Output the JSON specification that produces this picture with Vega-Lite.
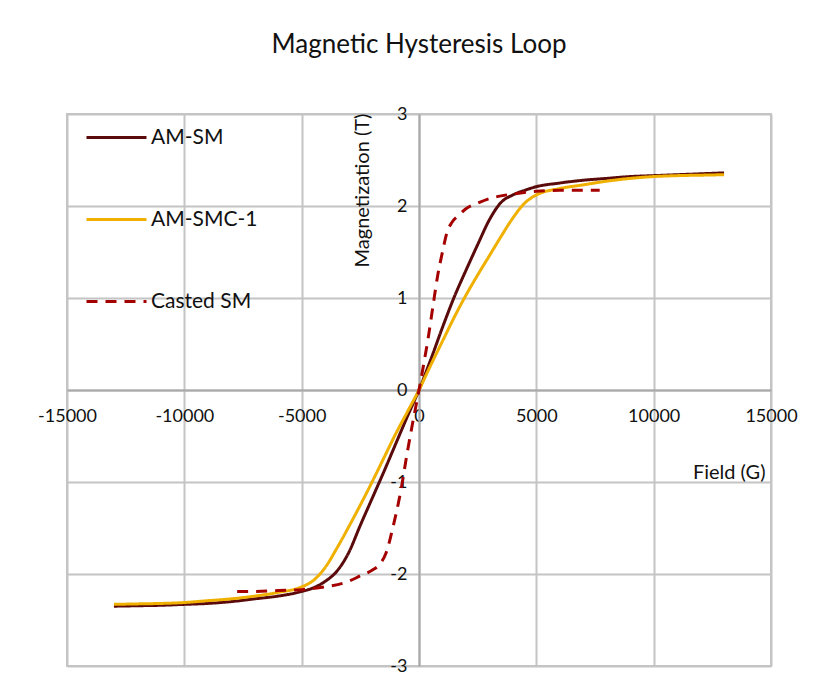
{
  "$schema": "https://vega.github.io/schema/vega-lite/v6.json",
  "autosize": {"type": "none"},
  "width": 704,
  "height": 552,
  "padding": {"left": 67, "top": 114, "right": 49, "bottom": 27},
  "background": "white",
  "title": {
    "text": "Magnetic Hysteresis Loop",
    "font": "Lato",
    "fontSize": 26,
    "fontWeight": "normal",
    "color": "#111111",
    "anchor": "middle",
    "frame": "group",
    "offset": 47
  },
  "config": {
    "font": "Lato",
    "view": {"stroke": "#c4c4c4", "strokeWidth": 2},
    "axis": {
      "gridColor": "#c4c4c4",
      "gridWidth": 2,
      "gridOpacity": 1,
      "domainColor": "#a8a8a8",
      "domainWidth": 2,
      "ticks": false,
      "labelFont": "Lato",
      "labelFontSize": 18,
      "labelColor": "#111111",
      "titleFont": "Lato",
      "titleFontSize": 20,
      "titleFontWeight": "normal",
      "titleColor": "#111111",
      "labelOverlap": false,
      "labelFlush": false
    }
  },
  "data": {
    "values": [
      {"series": "AM-SM", "field": -13000, "m": -2.35},
      {"series": "AM-SM", "field": -12000, "m": -2.345},
      {"series": "AM-SM", "field": -11000, "m": -2.34},
      {"series": "AM-SM", "field": -10000, "m": -2.33},
      {"series": "AM-SM", "field": -9000, "m": -2.32},
      {"series": "AM-SM", "field": -8000, "m": -2.3},
      {"series": "AM-SM", "field": -7000, "m": -2.27},
      {"series": "AM-SM", "field": -6000, "m": -2.24},
      {"series": "AM-SM", "field": -5000, "m": -2.19},
      {"series": "AM-SM", "field": -4500, "m": -2.15},
      {"series": "AM-SM", "field": -4000, "m": -2.08},
      {"series": "AM-SM", "field": -3500, "m": -1.97},
      {"series": "AM-SM", "field": -3000, "m": -1.77},
      {"series": "AM-SM", "field": -2500, "m": -1.47},
      {"series": "AM-SM", "field": -2000, "m": -1.18},
      {"series": "AM-SM", "field": -1500, "m": -0.89},
      {"series": "AM-SM", "field": -1000, "m": -0.59},
      {"series": "AM-SM", "field": -500, "m": -0.29},
      {"series": "AM-SM", "field": 0, "m": 0.0},
      {"series": "AM-SM", "field": 500, "m": 0.33},
      {"series": "AM-SM", "field": 1000, "m": 0.68},
      {"series": "AM-SM", "field": 1500, "m": 1.01},
      {"series": "AM-SM", "field": 2000, "m": 1.3},
      {"series": "AM-SM", "field": 2500, "m": 1.58},
      {"series": "AM-SM", "field": 3000, "m": 1.85},
      {"series": "AM-SM", "field": 3500, "m": 2.04},
      {"series": "AM-SM", "field": 4000, "m": 2.12},
      {"series": "AM-SM", "field": 4500, "m": 2.17},
      {"series": "AM-SM", "field": 5000, "m": 2.21},
      {"series": "AM-SM", "field": 6000, "m": 2.25},
      {"series": "AM-SM", "field": 7000, "m": 2.28},
      {"series": "AM-SM", "field": 8000, "m": 2.3},
      {"series": "AM-SM", "field": 9000, "m": 2.32},
      {"series": "AM-SM", "field": 10000, "m": 2.33},
      {"series": "AM-SM", "field": 11000, "m": 2.34},
      {"series": "AM-SM", "field": 12000, "m": 2.35},
      {"series": "AM-SM", "field": 13000, "m": 2.36},

      {"series": "AM-SMC-1", "field": -13000, "m": -2.33},
      {"series": "AM-SMC-1", "field": -12000, "m": -2.325},
      {"series": "AM-SMC-1", "field": -11000, "m": -2.32},
      {"series": "AM-SMC-1", "field": -10000, "m": -2.31},
      {"series": "AM-SMC-1", "field": -9000, "m": -2.29},
      {"series": "AM-SMC-1", "field": -8000, "m": -2.27},
      {"series": "AM-SMC-1", "field": -7000, "m": -2.24},
      {"series": "AM-SMC-1", "field": -6000, "m": -2.2},
      {"series": "AM-SMC-1", "field": -5000, "m": -2.14},
      {"series": "AM-SMC-1", "field": -4500, "m": -2.07},
      {"series": "AM-SMC-1", "field": -4000, "m": -1.93},
      {"series": "AM-SMC-1", "field": -3500, "m": -1.72},
      {"series": "AM-SMC-1", "field": -3000, "m": -1.49},
      {"series": "AM-SMC-1", "field": -2500, "m": -1.25},
      {"series": "AM-SMC-1", "field": -2000, "m": -1.0},
      {"series": "AM-SMC-1", "field": -1500, "m": -0.74},
      {"series": "AM-SMC-1", "field": -1000, "m": -0.48},
      {"series": "AM-SMC-1", "field": -500, "m": -0.24},
      {"series": "AM-SMC-1", "field": 0, "m": 0.0},
      {"series": "AM-SMC-1", "field": 500, "m": 0.27},
      {"series": "AM-SMC-1", "field": 1000, "m": 0.53},
      {"series": "AM-SMC-1", "field": 1500, "m": 0.79},
      {"series": "AM-SMC-1", "field": 2000, "m": 1.03},
      {"series": "AM-SMC-1", "field": 2500, "m": 1.25},
      {"series": "AM-SMC-1", "field": 3000, "m": 1.46},
      {"series": "AM-SMC-1", "field": 3500, "m": 1.67},
      {"series": "AM-SMC-1", "field": 4000, "m": 1.87},
      {"series": "AM-SMC-1", "field": 4500, "m": 2.03},
      {"series": "AM-SMC-1", "field": 5000, "m": 2.12},
      {"series": "AM-SMC-1", "field": 6000, "m": 2.19},
      {"series": "AM-SMC-1", "field": 7000, "m": 2.23},
      {"series": "AM-SMC-1", "field": 8000, "m": 2.27},
      {"series": "AM-SMC-1", "field": 9000, "m": 2.3},
      {"series": "AM-SMC-1", "field": 10000, "m": 2.32},
      {"series": "AM-SMC-1", "field": 11000, "m": 2.33},
      {"series": "AM-SMC-1", "field": 12000, "m": 2.335},
      {"series": "AM-SMC-1", "field": 13000, "m": 2.34},

      {"series": "Casted SM", "field": -7750, "m": -2.19},
      {"series": "Casted SM", "field": -7000, "m": -2.19},
      {"series": "Casted SM", "field": -6000, "m": -2.18},
      {"series": "Casted SM", "field": -5000, "m": -2.17},
      {"series": "Casted SM", "field": -4000, "m": -2.14},
      {"series": "Casted SM", "field": -3000, "m": -2.08},
      {"series": "Casted SM", "field": -2500, "m": -2.02},
      {"series": "Casted SM", "field": -2000, "m": -1.96},
      {"series": "Casted SM", "field": -1700, "m": -1.9},
      {"series": "Casted SM", "field": -1400, "m": -1.77},
      {"series": "Casted SM", "field": -1100, "m": -1.48},
      {"series": "Casted SM", "field": -800, "m": -1.13},
      {"series": "Casted SM", "field": -500, "m": -0.68},
      {"series": "Casted SM", "field": -250, "m": -0.33},
      {"series": "Casted SM", "field": 0, "m": 0.0},
      {"series": "Casted SM", "field": 200, "m": 0.28},
      {"series": "Casted SM", "field": 400, "m": 0.58},
      {"series": "Casted SM", "field": 600, "m": 0.92},
      {"series": "Casted SM", "field": 800, "m": 1.25},
      {"series": "Casted SM", "field": 1000, "m": 1.5},
      {"series": "Casted SM", "field": 1200, "m": 1.72},
      {"series": "Casted SM", "field": 1400, "m": 1.82},
      {"series": "Casted SM", "field": 1700, "m": 1.9},
      {"series": "Casted SM", "field": 2000, "m": 1.97},
      {"series": "Casted SM", "field": 2500, "m": 2.03},
      {"series": "Casted SM", "field": 3000, "m": 2.08},
      {"series": "Casted SM", "field": 3500, "m": 2.11},
      {"series": "Casted SM", "field": 4000, "m": 2.13},
      {"series": "Casted SM", "field": 5000, "m": 2.16},
      {"series": "Casted SM", "field": 6000, "m": 2.17},
      {"series": "Casted SM", "field": 7700, "m": 2.17}
    ]
  },
  "mark": {"type": "line", "strokeWidth": 3, "interpolate": "monotone"},
  "encoding": {
    "x": {
      "field": "field",
      "type": "quantitative",
      "scale": {"domain": [-15000, 15000], "nice": false},
      "axis": {
        "orient": "bottom",
        "offset": -276,
        "values": [-15000, -10000, -5000, 0, 5000, 10000, 15000],
        "labelExpr": "datum.value + ''",
        "labelPadding": 17,
        "title": "Field (G)",
        "titleX": 698,
        "titleY": 82,
        "titleAlign": "right",
        "titleBaseline": "middle",
        "titleAnchor": null
      }
    },
    "y": {
      "field": "m",
      "type": "quantitative",
      "scale": {"domain": [-3, 3], "nice": false},
      "axis": {
        "orient": "left",
        "offset": -352,
        "values": [-3, -2, -1, 0, 1, 2, 3],
        "labelExpr": "datum.value + ''",
        "labelPadding": 12,
        "title": "Magnetization (T)",
        "titleAngle": 270,
        "titleX": -57,
        "titleY": 76,
        "titleAlign": "center",
        "titleBaseline": "middle",
        "titleAnchor": null
      }
    },
    "color": {
      "field": "series",
      "type": "nominal",
      "scale": {
        "domain": ["AM-SM", "AM-SMC-1", "Casted SM"],
        "range": ["#5a0a0a", "#efb000", "#a50000"]
      },
      "legend": {
        "title": null,
        "orient": "none",
        "legendX": 18,
        "legendY": -8,
        "direction": "vertical",
        "symbolType": "stroke",
        "symbolSize": 3600,
        "symbolStrokeWidth": 3,
        "labelFontSize": 21,
        "labelFont": "Lato",
        "labelColor": "#111111",
        "labelOffset": 3,
        "rowPadding": 40
      }
    },
    "strokeDash": {
      "field": "series",
      "type": "nominal",
      "scale": {
        "domain": ["AM-SM", "AM-SMC-1", "Casted SM"],
        "range": [[1, 0], [1, 0], [11, 8]]
      },
      "legend": {
        "title": null,
        "orient": "none",
        "legendX": 18,
        "legendY": -8,
        "direction": "vertical",
        "symbolType": "stroke",
        "symbolSize": 3600,
        "symbolStrokeWidth": 3,
        "labelFontSize": 21,
        "labelFont": "Lato",
        "labelColor": "#111111",
        "labelOffset": 3,
        "rowPadding": 40
      }
    }
  }
}
